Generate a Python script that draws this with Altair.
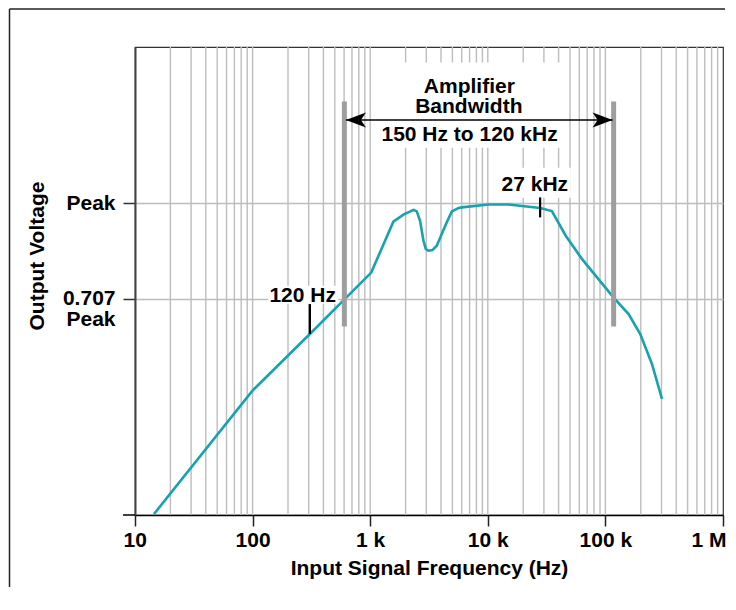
import altair as alt
import pandas as pd

FONT = "Liberation Sans"

# ---- data ----
freq_hz = [14.5, 99.4, 307, 1020, 1574, 1918, 2334, 2489, 2655, 2838, 2968, 3126,
           3382, 3681, 4060, 4480, 4944, 5635, 6015, 10140, 15000, 27860, 35060,
           46000, 63100, 117500, 157500, 197800, 248800, 302700]
output_db = [-9.97, -6.02, -4.2, -2.23, -0.6, -0.375, -0.22, -0.27, -0.57, -1.21,
             -1.47, -1.53, -1.51, -1.37, -0.99, -0.62, -0.27, -0.16, -0.14, -0.05,
             -0.05, -0.16, -0.26, -1.05, -1.79, -3.03, -3.56, -4.2, -5.16, -6.28]

x_tick_values = [10, 100, 1000, 10000, 100000, 1000000]
x_tick_labels = ["10", "100", "1 k", "10 k", "100 k", "1 M"]
grid_mults = [1, 2, 3, 4, 5, 6, 7, 8, 9]
grid_decades = [10, 100, 1000, 10000, 100000]

y_tick_values = [0, -3.07]

band_edges_hz = [603, 117500]
band_bar_db = [3.25, -3.96]
arrow_tips_hz = [622, 115100]
arrow_db = 2.66

label_text = ["Amplifier", "Bandwidth", "150 Hz to 120 kHz", "27 kHz", "120 Hz"]
label_hz = [6970, 6900, 7000, 25120, 266.5]
label_db = [3.71, 3.09, 2.19, 0.59, -2.97]

box_hz_lo = [1135, 11700, 136]
box_hz_hi = [48870, 50800, 536]
box_db_lo = [1.77, 0.17, -3.23]
box_db_hi = [4.50, 1.13, -2.65]

marker_hz = [27860, 307]
marker_db_top = [0.18, -3.24]
marker_db_bot = [-0.46, -4.2]

# ---- tables ----
curve = pd.DataFrame({"f": freq_hz, "db": output_db})
grid = pd.DataFrame({"f": [m * d for d in grid_decades for m in grid_mults if m * d > 10]})
bars = pd.DataFrame({"f": band_edges_hz, "db": [band_bar_db[0]] * 2, "db2": [band_bar_db[1]] * 2})
arrow_line = pd.DataFrame({"f": [arrow_tips_hz[0]], "f2": [arrow_tips_hz[1]], "db": [arrow_db]})
arrow_l = pd.DataFrame({"f": [arrow_tips_hz[0]], "db": [arrow_db]})
arrow_r = pd.DataFrame({"f": [arrow_tips_hz[1]], "db": [arrow_db]})
labels = pd.DataFrame({"f": label_hz, "db": label_db, "t": label_text})
boxes = pd.DataFrame({"f": box_hz_lo, "f2": box_hz_hi, "db": box_db_lo, "db2": box_db_hi})
markers = pd.DataFrame({"f": marker_hz, "db": marker_db_top, "db2": marker_db_bot})
ytitle = pd.DataFrame({"t": ["Output Voltage"]})
one = pd.DataFrame({"k": [0]})

W, H = 588, 468

label_expr = "[" + ",".join(f"'{s}'" for s in x_tick_labels) + "][indexof([" + \
    ",".join(str(v) for v in x_tick_values) + "], datum.value)]"

xs = alt.Scale(type="log", domain=[10, 1e6], nice=False)
ys = alt.Scale(domain=[-10, 5], nice=False, zero=False)

x_axis = alt.Axis(values=x_tick_values, labelExpr=label_expr, grid=False,
                  title="Input Signal Frequency (Hz)", tickSize=11, tickColor="#222",
                  tickWidth=1.5, domainColor="black", domainWidth=1.5,
                  labelFont=FONT, labelFontSize=21, labelFontWeight="bold",
                  labelColor="black", labelPadding=3, labelFlush=True,
                  labelFlushOffset=12,
                  labelOffset={"condition": {"test": "datum.value >= 1000000", "value": -9},
                               "value": 0},
                  labelOverlap=False, titleFont=FONT, titleFontSize=21,
                  titleFontWeight="bold", titleColor="black", titlePadding=7)
y_axis = alt.Axis(values=y_tick_values,
                  labelExpr="datum.value == 0 ? 'Peak' : ['0.707', 'Peak']",
                  grid=True, gridColor="#bdbdbd", gridWidth=1.4, title=None,
                  tickSize=12, tickColor="#333", tickWidth=1.5, domainColor="#444",
                  domainWidth=2, labelFont=FONT, labelFontSize=21,
                  labelFontWeight="bold", labelColor="black", labelPadding=8,
                  labelLineHeight=20.7)

X = alt.X("f:Q", scale=xs, axis=x_axis)
Y = alt.Y("db:Q", scale=ys, axis=y_axis)

gridlines = alt.Chart(grid).mark_rule(color="#bdbdbd", strokeWidth=1.4).encode(x=X)

curve_line = alt.Chart(curve).mark_line(color="#17a2ae", strokeWidth=2.6).encode(x=X, y=Y)

box_layer = alt.Chart(boxes).mark_rect(color="white", opacity=1).encode(
    x=X, x2="f2:Q", y=Y, y2="db2:Q")

bar_layer = alt.Chart(bars).mark_rule(color="#9e9e9e", strokeWidth=5).encode(
    x=X, y=Y, y2="db2:Q")

arrow_rule = alt.Chart(arrow_line).mark_rule(color="black", strokeWidth=1.6).encode(
    x=X, x2="f2:Q", y=Y)

head_r = alt.Chart(arrow_r).mark_point(
    shape="M0,0 L-2,-0.75 L-1.5,0 L-2,0.75 Z", filled=True, size=400,
    color="black", opacity=1).encode(x=X, y=Y)
head_l = alt.Chart(arrow_l).mark_point(
    shape="M0,0 L2,-0.75 L1.5,0 L2,0.75 Z", filled=True, size=400,
    color="black", opacity=1).encode(x=X, y=Y)

text_layer = alt.Chart(labels).mark_text(
    font=FONT, fontSize=21, fontWeight="bold", color="black",
    align="center", baseline="middle").encode(x=X, y=Y, text="t:N")

marker_layer = alt.Chart(markers).mark_rule(color="black", strokeWidth=2.2).encode(
    x=X, y=Y, y2="db2:Q")

ytitle_layer = alt.Chart(ytitle).mark_text(
    font=FONT, fontSize=21, fontWeight="bold", color="black", angle=270,
    align="center", baseline="middle").encode(
    x=alt.value(-97.5), y=alt.value(209), text="t:N")

axis_ext = alt.Chart(one).mark_rule(color="black", strokeWidth=1.5).encode(
    x=alt.value(-12), x2=alt.value(0), y=alt.value(H))

frame_left = alt.Chart(one).mark_rule(color="#222", strokeWidth=1.5).encode(
    x=alt.value(-125.5), y=alt.value(-38), y2=alt.value(540))
frame_top = alt.Chart(one).mark_rule(color="#222", strokeWidth=1.5).encode(
    x=alt.value(-125.5), x2=alt.value(590), y=alt.value(-38))

chart = alt.layer(
    gridlines, curve_line, box_layer, bar_layer, arrow_rule, head_l, head_r,
    text_layer, marker_layer, ytitle_layer, axis_ext, frame_left, frame_top
).properties(
    width=W, height=H, padding=0, background="white"
).configure_view(
    stroke="#333", strokeWidth=1.2
)

chart.save("out.html", embed_options={"renderer": "svg", "actions": False})
